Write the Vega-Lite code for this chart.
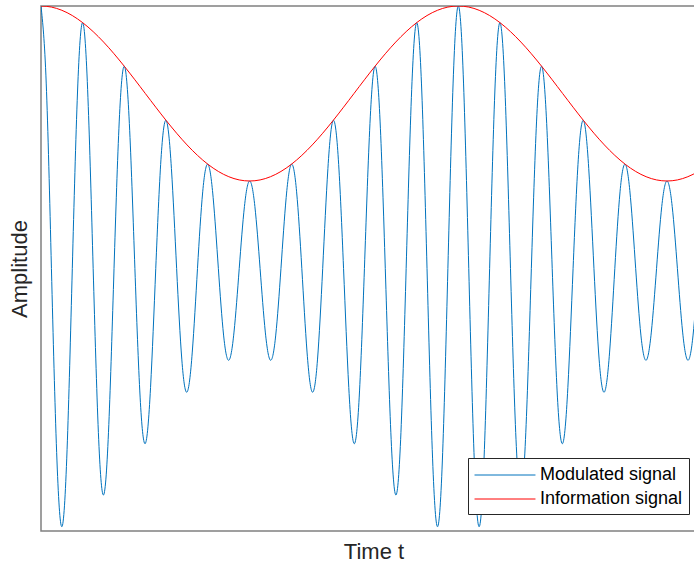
{
  "$schema": "https://vega.github.io/schema/vega-lite/v6.json",
  "width": 665,
  "height": 525,
  "autosize": {"type": "none"},
  "padding": {"left": 41, "top": 6, "right": 0, "bottom": 36},
  "background": "white",
  "config": {
    "view": {"stroke": "#808080", "strokeWidth": 1.5},
    "font": "Liberation Sans"
  },
  "data": {"values": [
    {"t":0,"s":1.5,"a":1.5},{"t":0.125,"s":1.05957,"a":1.49846},{"t":0.25,"s":0,"a":1.49385},{"t":0.375,"s":-1.0509,"a":1.48619},
    {"t":0.5,"s":-1.47553,"a":1.47553},{"t":0.625,"s":-1.03375,"a":1.46194},{"t":0.75,"s":0,"a":1.44551},{"t":0.875,"s":1.00857,"a":1.42632},
    {"t":1,"s":1.40451,"a":1.40451},{"t":1.125,"s":0.97596,"a":1.38021},{"t":1.25,"s":0,"a":1.35355},{"t":1.375,"s":-0.93673,"a":1.32473},
    {"t":1.5,"s":-1.29389,"a":1.29389},{"t":1.625,"s":-0.89184,"a":1.26125},{"t":1.75,"s":0,"a":1.227},{"t":1.875,"s":0.84241,"a":1.19134},
    {"t":2,"s":1.15451,"a":1.15451},{"t":2.125,"s":0.78965,"a":1.11673},{"t":2.25,"s":0,"a":1.07822},{"t":2.375,"s":-0.73485,"a":1.03923},
    {"t":2.5,"s":-1,"a":1},{"t":2.625,"s":-0.67937,"a":0.96077},{"t":2.75,"s":0,"a":0.92179},{"t":2.875,"s":0.62458,"a":0.88328},
    {"t":3,"s":0.84549,"a":0.84549},{"t":3.125,"s":0.57181,"a":0.80866},{"t":3.25,"s":0,"a":0.77301},{"t":3.375,"s":-0.52238,"a":0.73875},
    {"t":3.5,"s":-0.70611,"a":0.70611},{"t":3.625,"s":-0.4775,"a":0.67528},{"t":3.75,"s":0,"a":0.64645},{"t":3.875,"s":0.43827,"a":0.6198},
    {"t":4,"s":0.59549,"a":0.59549},{"t":4.125,"s":0.40566,"a":0.57368},{"t":4.25,"s":0,"a":0.5545},{"t":4.375,"s":-0.38047,"a":0.53806},
    {"t":4.5,"s":-0.52447,"a":0.52447},{"t":4.625,"s":-0.36333,"a":0.51382},{"t":4.75,"s":0,"a":0.50616},{"t":4.875,"s":0.35464,"a":0.50154},
    {"t":5,"s":0.5,"a":0.5},{"t":5.125,"s":0.35464,"a":0.50154},{"t":5.25,"s":0,"a":0.50616},{"t":5.375,"s":-0.36333,"a":0.51382},
    {"t":5.5,"s":-0.52447,"a":0.52447},{"t":5.625,"s":-0.38047,"a":0.53806},{"t":5.75,"s":0,"a":0.5545},{"t":5.875,"s":0.40566,"a":0.57368},
    {"t":6,"s":0.59549,"a":0.59549},{"t":6.125,"s":0.43827,"a":0.6198},{"t":6.25,"s":0,"a":0.64645},{"t":6.375,"s":-0.4775,"a":0.67528},
    {"t":6.5,"s":-0.70611,"a":0.70611},{"t":6.625,"s":-0.52238,"a":0.73875},{"t":6.75,"s":0,"a":0.77301},{"t":6.875,"s":0.57181,"a":0.80866},
    {"t":7,"s":0.84549,"a":0.84549},{"t":7.125,"s":0.62458,"a":0.88328},{"t":7.25,"s":0,"a":0.92179},{"t":7.375,"s":-0.67937,"a":0.96077},
    {"t":7.5,"s":-1,"a":1},{"t":7.625,"s":-0.73485,"a":1.03923},{"t":7.75,"s":0,"a":1.07822},{"t":7.875,"s":0.78965,"a":1.11673},
    {"t":8,"s":1.15451,"a":1.15451},{"t":8.125,"s":0.84241,"a":1.19134},{"t":8.25,"s":0,"a":1.227},{"t":8.375,"s":-0.89184,"a":1.26125},
    {"t":8.5,"s":-1.29389,"a":1.29389},{"t":8.625,"s":-0.93673,"a":1.32473},{"t":8.75,"s":0,"a":1.35355},{"t":8.875,"s":0.97596,"a":1.38021},
    {"t":9,"s":1.40451,"a":1.40451},{"t":9.125,"s":1.00857,"a":1.42632},{"t":9.25,"s":0,"a":1.44551},{"t":9.375,"s":-1.03375,"a":1.46194},
    {"t":9.5,"s":-1.47553,"a":1.47553},{"t":9.625,"s":-1.0509,"a":1.48619},{"t":9.75,"s":0,"a":1.49385},{"t":9.875,"s":1.05957,"a":1.49846},
    {"t":10,"s":1.5,"a":1.5},{"t":10.125,"s":1.05957,"a":1.49846},{"t":10.25,"s":0,"a":1.49385},{"t":10.375,"s":-1.0509,"a":1.48619},
    {"t":10.5,"s":-1.47553,"a":1.47553},{"t":10.625,"s":-1.03375,"a":1.46194},{"t":10.75,"s":0,"a":1.44551},{"t":10.875,"s":1.00857,"a":1.42632},
    {"t":11,"s":1.40451,"a":1.40451},{"t":11.125,"s":0.97596,"a":1.38021},{"t":11.25,"s":0,"a":1.35355},{"t":11.375,"s":-0.93673,"a":1.32473},
    {"t":11.5,"s":-1.29389,"a":1.29389},{"t":11.625,"s":-0.89184,"a":1.26125},{"t":11.75,"s":0,"a":1.227},{"t":11.875,"s":0.84241,"a":1.19134},
    {"t":12,"s":1.15451,"a":1.15451},{"t":12.125,"s":0.78965,"a":1.11673},{"t":12.25,"s":0,"a":1.07822},{"t":12.375,"s":-0.73485,"a":1.03923},
    {"t":12.5,"s":-1,"a":1},{"t":12.625,"s":-0.67937,"a":0.96077},{"t":12.75,"s":0,"a":0.92179},{"t":12.875,"s":0.62458,"a":0.88328},
    {"t":13,"s":0.84549,"a":0.84549},{"t":13.125,"s":0.57181,"a":0.80866},{"t":13.25,"s":0,"a":0.77301},{"t":13.375,"s":-0.52238,"a":0.73875},
    {"t":13.5,"s":-0.70611,"a":0.70611},{"t":13.625,"s":-0.4775,"a":0.67528},{"t":13.75,"s":0,"a":0.64645},{"t":13.875,"s":0.43827,"a":0.6198},
    {"t":14,"s":0.59549,"a":0.59549},{"t":14.125,"s":0.40566,"a":0.57368},{"t":14.25,"s":0,"a":0.5545},{"t":14.375,"s":-0.38047,"a":0.53806},
    {"t":14.5,"s":-0.52447,"a":0.52447},{"t":14.625,"s":-0.36333,"a":0.51382},{"t":14.75,"s":0,"a":0.50616},{"t":14.875,"s":0.35464,"a":0.50154},
    {"t":15,"s":0.5,"a":0.5},{"t":15.125,"s":0.35464,"a":0.50154},{"t":15.25,"s":0,"a":0.50616},{"t":15.375,"s":-0.36333,"a":0.51382},
    {"t":15.5,"s":-0.52447,"a":0.52447},{"t":15.625,"s":-0.38047,"a":0.53806},{"t":15.75,"s":0,"a":0.5545},{"t":15.875,"s":0.40566,"a":0.57368},
    {"t":16,"s":0.59549,"a":0.59549}
  ]},
  "encoding": {
    "x": {
      "field": "t", "type": "quantitative",
      "scale": {"domain": [0, 15.935], "nice": false, "zero": false},
      "axis": {"title": "Time t", "domain": false, "ticks": false, "labels": false, "grid": false,
               "titleFontSize": 22, "titleFontWeight": "normal", "titleColor": "#262626", "titlePadding": 10, "titleFont": "Liberation Sans"}
    }
  },
  "layer": [
    {
      "mark": {"type": "line", "interpolate": "natural", "clip": true, "strokeWidth": 1},
      "encoding": {
        "y": {"field": "s", "type": "quantitative",
              "scale": {"domain": [-1.5, 1.5], "nice": false, "zero": false},
              "axis": {"title": "Amplitude", "domain": false, "ticks": false, "labels": false, "grid": false,
                       "titleFontSize": 22, "titleFontWeight": "normal", "titleColor": "#262626", "titlePadding": 10, "titleFont": "Liberation Sans"}},
        "color": {
          "datum": "Modulated signal",
          "scale": {"domain": ["Modulated signal", "Information signal"], "range": ["#0072BD", "#FF0000"]},
          "legend": {"orient": "bottom-right", "offset": 17, "title": null,
                     "symbolType": "M-3,0H3", "symbolSize": 413, "symbolStrokeWidth": 1, "symbolOffset": 20,
                     "labelFontSize": 18, "labelFont": "Liberation Sans", "labelColor": "#000000", "labelOffset": 24,
                     "strokeColor": "#262626", "fillColor": "white", "padding": 6, "rowPadding": 4}
        }
      }
    },
    {
      "mark": {"type": "line", "interpolate": "natural", "clip": true, "strokeWidth": 1},
      "encoding": {
        "y": {"field": "a", "type": "quantitative"},
        "color": {"datum": "Information signal"}
      }
    }
  ]
}
